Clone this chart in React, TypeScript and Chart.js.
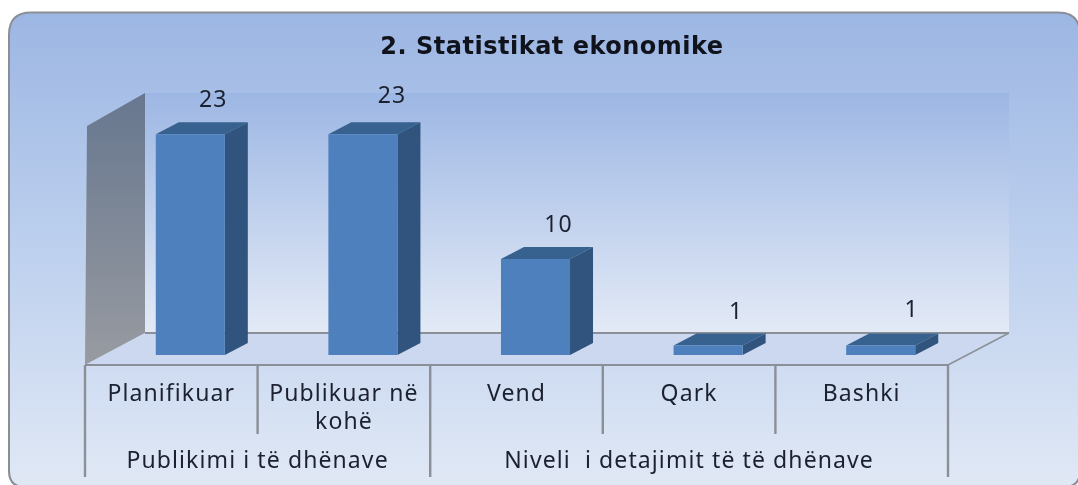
import React, { useEffect, useRef } from "react";
import { Chart, registerables } from "chart.js";

Chart.register(...registerables);

const titleText = "2. Statistikat ekonomike";
const categories: (string | string[])[] = ["Planifikuar", ["Publikuar në", "kohë"], "Vend", "Qark", "Bashki"];
const values = [23, 23, 10, 1, 1];
const groupLabels = ["Publikimi i të dhënave", "Niveli  i detajimit të të dhënave"];
const groupSpans = [2, 3];

// nudges of the value labels as they sit in the picture
const labelNudgeX = [23, 29, 23, 28, 31];
const labelNudgeY = [-34, -38, -34, -33, -35];

const FONT = "'Noto Sans', sans-serif";
const TITLE_FONT = "'DejaVu Sans', sans-serif";
const TEXT = "#1c2130";
const LINE = "#8b9098";
const BAR_SHIFT = 19;
const BAR_DX = 23;
const BAR_DY = 12;
const WALL_DX = 60;
const WALL_DY = 32;
const TRACK = "1.1px";

function roundedFrame(ctx: CanvasRenderingContext2D) {
  const l = 9, t = 12.5, r = 1080, b = 487, rad = 22, radB = 16;
  ctx.beginPath();
  ctx.moveTo(l + rad, t);
  ctx.lineTo(r - rad, t);
  ctx.quadraticCurveTo(r, t, r, t + rad);
  ctx.lineTo(r, b - radB);
  ctx.quadraticCurveTo(r, b, r - radB, b);
  ctx.lineTo(l + radB, b);
  ctx.quadraticCurveTo(l, b, l, b - radB);
  ctx.lineTo(l, t + rad);
  ctx.quadraticCurveTo(l, t, l + rad, t);
  ctx.closePath();
}

function poly(ctx: CanvasRenderingContext2D, pts: number[][], fill: string | CanvasGradient) {
  ctx.beginPath();
  pts.forEach((p, i) => (i ? ctx.lineTo(p[0], p[1]) : ctx.moveTo(p[0], p[1])));
  ctx.closePath();
  ctx.fillStyle = fill;
  ctx.fill();
}

function seg(ctx: CanvasRenderingContext2D, x1: number, y1: number, x2: number, y2: number) {
  ctx.beginPath();
  ctx.moveTo(x1, y1);
  ctx.lineTo(x2, y2);
  ctx.stroke();
}

const scenePlugin = {
  id: "scene",
  beforeDraw(chart: any) {
    const { ctx, chartArea } = chart;
    const left = chartArea.left;
    const right = chartArea.right;
    const floorFront = chartArea.bottom + 10;
    const floorBack = floorFront - WALL_DY;
    const wallTop = chartArea.top - 22;
    const step = (right - left) / categories.length;

    ctx.save();
    ctx.clearRect(0, 0, chart.width, chart.height);
    const bg = ctx.createLinearGradient(0, 12, 0, 485);
    bg.addColorStop(0, "#9cb6e3");
    bg.addColorStop(0.5, "#bdd0ee");
    bg.addColorStop(1, "#e0e8f5");
    roundedFrame(ctx);
    ctx.fillStyle = bg;
    ctx.fill();
    ctx.strokeStyle = "#8a8f96";
    ctx.lineWidth = 2;
    ctx.stroke();

    // back wall
    const wall = ctx.createLinearGradient(0, wallTop, 0, floorBack);
    wall.addColorStop(0, "#9db7e4");
    wall.addColorStop(1, "#e3eaf6");
    poly(ctx, [[left + WALL_DX, wallTop], [right + WALL_DX + 1, wallTop], [right + WALL_DX + 1, floorBack], [left + WALL_DX, floorBack]], wall);

    // side wall
    const side = ctx.createLinearGradient(0, wallTop, 0, floorFront);
    side.addColorStop(0, "#67778f");
    side.addColorStop(1, "#989ba1");
    poly(ctx, [[left + 2, wallTop + WALL_DY + 1], [left + WALL_DX, wallTop], [left + WALL_DX, floorBack], [left, floorFront]], side);

    // floor
    poly(ctx, [[left + WALL_DX, floorBack], [right + WALL_DX + 1, floorBack], [right, floorFront], [left, floorFront]], "#cbd8ef");

    ctx.strokeStyle = LINE;
    ctx.lineWidth = 2;
    seg(ctx, left + WALL_DX, floorBack, right + WALL_DX + 1, floorBack);
    seg(ctx, left, floorFront, right, floorFront);
    ctx.lineWidth = 1.5;
    seg(ctx, right, floorFront, right + WALL_DX + 1, floorBack);

    // separators of the two label levels
    ctx.lineWidth = 2.4;
    let idx = 0;
    seg(ctx, left, floorFront, left, 477);
    groupSpans.forEach((span) => {
      for (let k = 1; k < span; k++) {
        const px = left + (idx + k) * step;
        seg(ctx, px, floorFront, px, 434);
      }
      idx += span;
      const px = left + idx * step;
      seg(ctx, px, floorFront, px, 477);
    });
    ctx.restore();
    ctx.letterSpacing = TRACK;
  },
  beforeDatasetDraw(chart: any) {
    const { ctx } = chart;
    ctx.save();
    ctx.translate(BAR_SHIFT, 0);
    chart.getDatasetMeta(0).data.forEach((bar: any) => {
      const l = bar.x - bar.width / 2;
      const r = bar.x + bar.width / 2;
      const top = bar.y;
      const base = bar.base;
      poly(ctx, [[l, top], [r, top], [r + BAR_DX, top - BAR_DY], [l + BAR_DX, top - BAR_DY]], "#37628f");
      poly(ctx, [[r, top], [r + BAR_DX, top - BAR_DY], [r + BAR_DX, base - BAR_DY], [r, base]], "#30547d");
    });
  },
  afterDatasetDraw(chart: any) {
    chart.ctx.restore();
  },
  afterDraw(chart: any) {
    const { ctx, chartArea } = chart;
    const step = (chartArea.right - chartArea.left) / categories.length;
    ctx.save();
    ctx.textAlign = "center";
    ctx.textBaseline = "middle";
    ctx.fillStyle = TEXT;

    // value labels
    ctx.font = `23px ${FONT}`;
    chart.getDatasetMeta(0).data.forEach((bar: any, i: number) => {
      ctx.fillText(String(values[i]), bar.x + BAR_SHIFT + labelNudgeX[i], bar.y + labelNudgeY[i]);
    });

    // group labels
    let idx = 0;
    groupLabels.forEach((g, i) => {
      const cx = chartArea.left + (idx + groupSpans[i] / 2) * step;
      ctx.fillText(g, cx, 461);
      idx += groupSpans[i];
    });

    // title
    ctx.fillStyle = "#10131c";
    ctx.font = `bold 24px ${TITLE_FONT}`;
    ctx.letterSpacing = "0.5px";
    ctx.fillText(titleText, 552, 48);
    ctx.restore();
  },
};

export default function App() {
  const ref = useRef<HTMLCanvasElement>(null);
  useEffect(() => {
    document.body.style.margin = "0";
    const chart = new Chart(ref.current!, {
      type: "bar",
      data: {
        labels: categories as any,
        datasets: [
          {
            data: values,
            backgroundColor: "#4e80bd",
            barPercentage: 0.4,
            categoryPercentage: 1,
            borderWidth: 0,
          },
        ],
      },
      options: {
        responsive: false,
        animation: false,
        devicePixelRatio: 1,
        layout: { padding: { left: 85, right: 130, top: 115, bottom: 0 } },
        plugins: { legend: { display: false }, title: { display: false }, tooltip: { enabled: false } },
        scales: {
          x: {
            grid: { display: false },
            border: { display: false },
            afterFit: (s: any) => {
              s.height = 130;
            },
            ticks: {
              autoSkip: false,
              maxRotation: 0,
              minRotation: 0,
              padding: 18,
              color: TEXT,
              font: { family: FONT, size: 23, lineHeight: 1.2 },
            },
          },
          y: { display: false, min: 0, max: 25 },
        },
      },
      plugins: [scenePlugin],
    });
    return () => chart.destroy();
  }, []);
  return <canvas ref={ref} width={1078} height={485} style={{ display: "block" }} />;
}
